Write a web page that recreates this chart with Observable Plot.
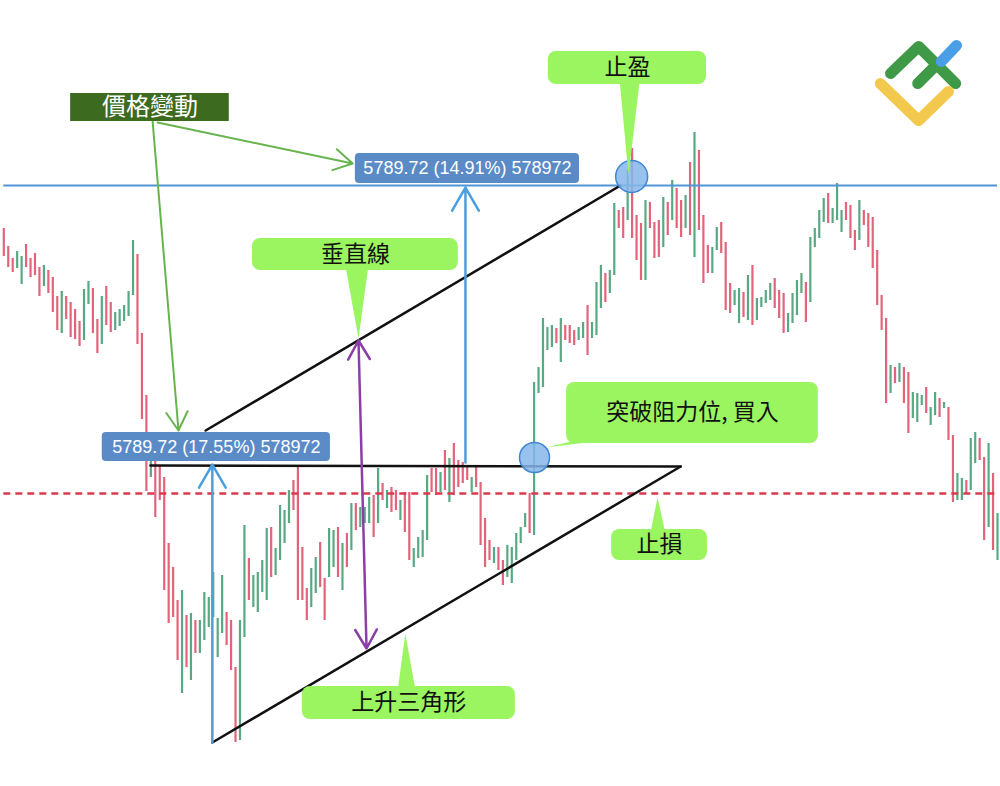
<!DOCTYPE html>
<html>
<head>
<meta charset="utf-8">
<script src="https://cdn.jsdelivr.net/npm/d3@7"></script>
<script src="https://cdn.jsdelivr.net/npm/@observablehq/plot@0.6"></script>
<style>
  html, body { margin: 0; padding: 0; background: #ffffff; }
  #chart svg { display: block; }
</style>
</head>
<body>
<div id="chart"></div>
<script>
// ---- candle data (price units, arbitrary scale) ----
const highs = [772,754,742,749,744,756,742,747,733,735,
  730,723,704,709,704,698,691,679,711,719,
  712,681,704,714,698,688,691,695,709,760,
  746,667,605,547,540,535,523,457,433,400,
  410,385,387,380,380,408,403,428,382,425,
  388,380,333,380,475,442,425,428,440,472,
  473,452,495,490,510,520,535,453,412,432,
  443,458,422,472,470,473,457,467,497,497,
  493,493,503,505,532,517,510,513,510,500,
  508,508,452,463,470,525,532,532,528,550,
  542,557,540,538,533,523,533,518,482,460,
  453,453,440,455,453,467,473,487,507,618,
  633,682,673,675,672,682,675,675,670,673,
  678,695,678,718,735,727,730,797,790,793,
  830,852,785,777,800,798,778,780,803,798,
  820,812,800,805,838,868,850,785,755,753,
  773,778,758,717,710,712,708,725,735,702,
  703,710,717,722,710,707,687,707,720,727,
  718,763,772,790,802,807,792,817,790,798,
  795,770,800,790,787,783,750,705,682,635,
  633,637,633,628,608,607,605,613,593,608,
  602,598,593,565,527,522,520,562,568,562,
  543,557,527,487];
const lows = [744,733,728,732,716,733,723,725,704,714,
  707,688,670,667,681,663,661,654,660,696,
  667,647,656,675,668,670,674,679,684,705,
  656,581,509,523,483,500,410,377,383,340,
  307,333,320,347,347,360,373,383,343,367,
  355,330,258,260,363,400,393,388,408,400,
  423,425,440,457,477,490,400,400,380,393,
  407,413,380,423,433,423,410,433,450,470,
  473,477,477,463,477,500,492,488,490,480,
  468,440,433,442,443,460,508,505,508,510,
  498,505,513,517,520,508,513,455,433,440,
  437,430,415,423,417,440,457,473,467,465,
  607,613,650,653,657,638,660,657,655,660,
  662,645,662,665,692,698,707,725,772,762,
  780,762,740,720,720,772,742,743,753,765,
  780,772,763,772,765,743,770,717,727,727,
  750,747,690,687,695,677,683,680,675,680,
  693,697,700,692,682,667,668,677,685,707,
  678,698,753,762,778,777,777,780,768,780,
  762,750,760,775,753,732,695,670,597,607,
  617,618,597,567,582,578,595,587,575,585,
  583,592,560,498,500,500,507,510,537,540,
  460,473,450,440];
// g = rising candle, r = falling candle
const direction = ("rrrggrrrrg" + "rrrgrrrrgg" + "rrgrrggggg" + "rrrgrrrrrr" +
  "grgrgggggg" + "rrrggrgggg" + "rggggrrrrg" + "grrggrgrgr" +
  "gggrgrgrrg" + "rrggggrrgr" + "grrrrgrrrr" + "grrgggggrg" +
  "ggggrgrrrg" + "grgggrggrr" + "grrrgrrrgr" + "grrgrgrrrg" +
  "grrrggrgrg" + "gggrrrgggg" + "rggggrgggr" + "rrgrrrrrrg" +
  "rgrrgggrgg" + "rgrrggrggr" + "rgrg").split("");

// ---- annotation levels ----
const takeProfitLevel = 815;
const stopLossLevel = 507;
const resistanceLine = [{x: 32.9, y: 535}, {x: 151.9, y: 534}];
const supportLine = [{x: 46.8, y: 258}, {x: 151.9, y: 534}];
const parallelLine = [{x: 45.3, y: 570}, {x: 138.4, y: 815}];

const blueArrows = [
  {x1: 46.8, y1: 258, x2: 46.8, y2: 536},
  {x1: 103.6, y1: 538, x2: 103.6, y2: 813}
];
const purpleArrows = [
  {x1: 80.5, y1: 506, x2: 79.6, y2: 660},
  {x1: 80.5, y1: 506, x2: 81.4, y2: 352}
];
const greenArrows = [
  {x1: 33.4, y1: 879, x2: 39.2, y2: 570},
  {x1: 34.5, y1: 878, x2: 78.3, y2: 837}
];
const circles = [{x: 140.9, y: 824, r: 16}, {x: 119.1, y: 543, r: 15}];

const measureLabels = [
  {x1: 22.1, x2: 73.3, y1: 539, y2: 568, text: "5789.72 (17.55%) 578972"},
  {x1: 78.9, x2: 129.2, y1: 817, y2: 847, text: "5789.72 (14.91%) 578972"}
];
const headerLabel = [{x1: 15.0, x2: 50.6, y1: 879, y2: 907, text: "價格變動"}];
const callouts = [
  {x1: 122.2, x2: 157.7, y1: 916, y2: 949, text: "止盈"},
  {x1: 55.8, x2: 102.0, y1: 730, y2: 762, text: "垂直線"},
  {x1: 126.3, x2: 182.8, y1: 557, y2: 618, text: "突破阻力位, 買入"},
  {x1: 136.4, x2: 157.9, y1: 440, y2: 471, text: "止損"},
  {x1: 67.0, x2: 114.8, y1: 281, y2: 314, text: "上升三角形"}
];
const pointers = [
  [[138.2, 920], [142.7, 920], [140.2, 825]],
  [[76.7, 734], [81.8, 734], [79.6, 662]],
  [[128.3, 560], [134.5, 560], [121.6, 553]],
  [[145.1, 467], [148.5, 467], [146.7, 503]],
  [[88.4, 310], [92.4, 310], [90.1, 367]]
];
// logo strokes
const logoStrokes = [
  {color: "#3f9a48", pts: [[199.0, 927], [205.3, 954], [213.6, 917]]},
  {color: "#3f9a48", pts: [[205.1, 917], [209.6, 937]]},
  {color: "#4a9ee6", pts: [[210.4, 939], [213.8, 955]]},
  {color: "#f2c94c", pts: [[196.7, 917], [205.3, 880], [212.0, 909]]}
];

// ---- build tables ----
const candles = highs.map((h, i) => ({i, high: h, low: lows[i], up: direction[i] === "g"}));
const pointerPts = pointers.flatMap((tri, k) => [...tri, tri[0]].map(([x, y]) => ({k, x, y})));
const logoPts = logoStrokes.flatMap((s, k) => s.pts.map(([x, y]) => ({k, x, y, color: s.color})));
const center = d => ({...d, cx: (d.x1 + d.x2) / 2, cy: (d.y1 + d.y2) / 2});

const GREEN = "#58a983", RED = "#e3647a", LIME = "#9af560";

const chart = Plot.plot({
  width: 1000,
  height: 786,
  marginTop: 0, marginBottom: 0, marginLeft: 3.3, marginRight: 3,
  x: {domain: [0, 223], axis: null},
  y: {domain: [214, 1000], axis: null},
  r: {type: "identity"},
  style: {background: "#ffffff", overflow: "visible"},
  marks: [
    Plot.ruleX(candles, {x: "i", y1: "low", y2: "high", stroke: d => d.up ? GREEN : RED, strokeWidth: 2.2}),
    Plot.ruleY([takeProfitLevel], {stroke: "#5195d6", strokeWidth: 2}),
    Plot.ruleY([stopLossLevel], {stroke: "#d93a4e", strokeWidth: 2.5, strokeDasharray: "7,5"}),
    Plot.line(resistanceLine, {x: "x", y: "y", stroke: "#111", strokeWidth: 2.5}),
    Plot.line(supportLine, {x: "x", y: "y", stroke: "#111", strokeWidth: 2.5}),
    Plot.line(parallelLine, {x: "x", y: "y", stroke: "#111", strokeWidth: 2.5}),
    Plot.arrow(blueArrows, {x1: "x1", y1: "y1", x2: "x2", y2: "y2", stroke: "#4a9fe0", strokeWidth: 2.5, headLength: 16}),
    Plot.arrow(purpleArrows, {x1: "x1", y1: "y1", x2: "x2", y2: "y2", stroke: "#8b3fa6", strokeWidth: 2.5, headLength: 13}),
    Plot.arrow(greenArrows, {x1: "x1", y1: "y1", x2: "x2", y2: "y2", stroke: "#67b44e", strokeWidth: 2, headLength: 16}),
    Plot.dot(circles, {x: "x", y: "y", r: "r", fill: "#86b6ea", fillOpacity: 0.85, stroke: "#3f86d2", strokeWidth: 1.5}),
    Plot.rect(measureLabels, {x1: "x1", x2: "x2", y1: "y1", y2: "y2", fill: "#5b8bc7", rx: 4}),
    Plot.text(measureLabels.map(center), {x: "cx", y: "cy", text: "text", fill: "white", fontSize: 18, fontFamily: "Liberation Sans, Arial, sans-serif"}),
    Plot.rect(headerLabel, {x1: "x1", x2: "x2", y1: "y1", y2: "y2", fill: "#3c6a1f"}),
    Plot.text(headerLabel.map(center), {x: "cx", y: "cy", text: "text", fill: "white", fontSize: 24, fontFamily: "Noto Sans CJK TC"}),
    Plot.line(pointerPts, {x: "x", y: "y", z: "k", fill: LIME, stroke: null}),
    Plot.rect(callouts, {x1: "x1", x2: "x2", y1: "y1", y2: "y2", fill: LIME, rx: 8}),
    Plot.text(callouts.map(center), {x: "cx", y: "cy", text: "text", fill: "#111", fontSize: 23, fontFamily: "Noto Sans CJK TC"}),
    Plot.line(logoPts, {x: "x", y: "y", z: "k", stroke: "color", strokeWidth: 11, strokeLinecap: "round", strokeLinejoin: "round"})
  ]
});
document.getElementById("chart").append(chart);
</script>
</body>
</html>
